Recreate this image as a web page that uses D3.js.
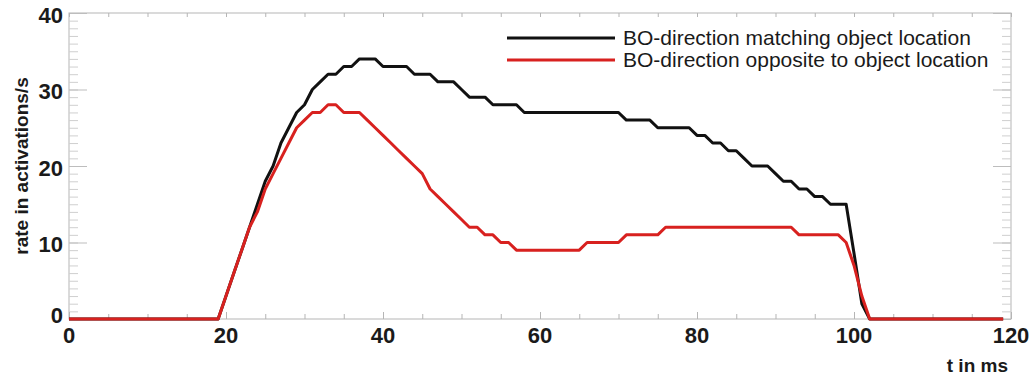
<!DOCTYPE html>
<html><head><meta charset="utf-8">
<script src="https://cdn.jsdelivr.net/npm/d3@7"></script>
<style>body{margin:0;background:#fff} svg{display:block}</style>
</head><body><svg id="c" width="1029" height="376"></svg>
<script>
const timeMs = [0,1,2,3,4,5,6,7,8,9,10,11,12,13,14,15,16,17,18,19,
 20,21,22,23,24,25,26,27,28,29,30,31,32,33,34,35,36,37,38,39,
 40,41,42,43,44,45,46,47,48,49,50,51,52,53,54,55,56,57,58,59,
 60,61,62,63,64,65,66,67,68,69,70,71,72,73,74,75,76,77,78,79,
 80,81,82,83,84,85,86,87,88,89,90,91,92,93,94,95,96,97,98,99,
 100,101,102,103,104,105,106,107,108,109,110,111,112,113,114,115,116,117,118,119];
const matching = [0,0,0,0,0,0,0,0,0,0,0,0,0,0,0,0,0,0,0,0,
 3,6,9,12,15,18,20,23,25,27,28,30,31,32,32,33,33,34,34,34,
 33,33,33,33,32,32,32,31,31,31,30,29,29,29,28,28,28,28,27,27,
 27,27,27,27,27,27,27,27,27,27,27,26,26,26,26,25,25,25,25,25,
 24,24,23,23,22,22,21,20,20,20,19,18,18,17,17,16,16,15,15,15,
 8.6,2,0,0,0,0,0,0,0,0,0,0,0,0,0,0,0,0,0,0];
const opposite = [0,0,0,0,0,0,0,0,0,0,0,0,0,0,0,0,0,0,0,0,
 3,6,9,12,14,17,19,21,23,25,26,27,27,28,28,27,27,27,26,25,
 24,23,22,21,20,19,17,16,15,14,13,12,12,11,11,10,10,9,9,9,
 9,9,9,9,9,9,10,10,10,10,10,11,11,11,11,11,12,12,12,12,
 12,12,12,12,12,12,12,12,12,12,12,12,12,11,11,11,11,11,11,10,
 7,3,0,0,0,0,0,0,0,0,0,0,0,0,0,0,0,0,0,0];
const xTicks = [0,20,40,60,80,100,120];
const yTicks = [0,10,20,30,40];
const seriesNames = ["BO-direction matching object location","BO-direction opposite to object location"];
const seriesColors = ["#111111","#d8211f"];

const svg = d3.select("#c");
const L = 69, R = 1011, T = 13, B = 319;
const x = d3.scaleLinear().domain([0,120]).range([L,R]);
const y = d3.scaleLinear().domain([0,40]).range([B,T]);
const axisCol = "#b5b5b5", txt = "#1a1a1a";

// frame
svg.append("rect").attr("x",L).attr("y",T).attr("width",R-L).attr("height",B-T)
  .attr("fill","none").attr("stroke",axisCol).attr("stroke-width",1);

function styleAxis(g, col){ g.select(".domain").remove(); g.selectAll("line").attr("stroke",col); g.selectAll("text").remove(); }
// left minor/major ticks (inward)
svg.append("g").attr("transform",`translate(${L},0)`).call(d3.axisRight(y).ticks(40).tickSize(9)).call(g=>styleAxis(g,"#cfcfcf"));
svg.append("g").attr("transform",`translate(${L},0)`).call(d3.axisRight(y).tickValues(yTicks).tickSize(18)).call(g=>styleAxis(g,"#bdbdbd"));
// right ticks
svg.append("g").attr("transform",`translate(${R},0)`).call(d3.axisLeft(y).ticks(40).tickSize(9)).call(g=>styleAxis(g,"#cfcfcf"));
svg.append("g").attr("transform",`translate(${R},0)`).call(d3.axisLeft(y).tickValues(yTicks).tickSize(18)).call(g=>styleAxis(g,"#bdbdbd"));
// top ticks
svg.append("g").attr("transform",`translate(0,${T})`).call(d3.axisBottom(x).ticks(24).tickSize(4)).call(g=>styleAxis(g,axisCol));
// bottom ticks
svg.append("g").attr("transform",`translate(0,${B})`).call(d3.axisTop(x).ticks(24).tickSize(5)).call(g=>styleAxis(g,axisCol));
svg.append("g").attr("transform",`translate(0,${B})`).call(d3.axisTop(x).tickValues(xTicks).tickSize(7)).call(g=>styleAxis(g,axisCol));

// tick labels
const tickFont = "'Liberation Sans', Arial, sans-serif";
svg.append("g").selectAll("text").data(yTicks).join("text")
  .attr("x",63).attr("y",d=>y(d)+(d===0?-4:2))
  .attr("text-anchor","end").attr("dominant-baseline","central")
  .attr("font-family",tickFont).attr("font-weight","bold").attr("font-size",22).attr("fill",txt)
  .text(d=>d);
svg.append("g").selectAll("text").data(xTicks).join("text")
  .attr("x",d=>x(d)).attr("y",343)
  .attr("text-anchor","middle")
  .attr("font-family",tickFont).attr("font-weight","bold").attr("font-size",22).attr("fill",txt)
  .text(d=>d);

// axis titles
svg.append("text").attr("transform","translate(28,166) rotate(-90)")
  .attr("text-anchor","middle").attr("font-family",tickFont).attr("font-weight","bold")
  .attr("font-size",19).attr("fill",txt).text("rate in activations/s");
svg.append("text").attr("x",1008).attr("y",372).attr("text-anchor","end")
  .attr("font-family",tickFont).attr("font-weight","bold").attr("font-size",19).attr("fill",txt).text("t in ms");

// lines
const line = d3.line().x((d,i)=>x(timeMs[i])).y(d=>y(d));
[matching, opposite].forEach((s,k)=>{
  svg.append("path").datum(s).attr("d",line).attr("fill","none")
    .attr("stroke",seriesColors[k]).attr("stroke-width",3).attr("stroke-linejoin","round");
});

// legend
const lg = svg.append("g");
seriesNames.forEach((n,k)=>{
  const yy = 38 + k*22;
  lg.append("line").attr("x1",507).attr("x2",615).attr("y1",yy).attr("y2",yy)
    .attr("stroke",seriesColors[k]).attr("stroke-width",3);
  lg.append("text").attr("x",623).attr("y",yy+7).attr("font-family",tickFont)
    .attr("font-size",21).attr("fill",txt).text(n);
});
</script></body></html>
